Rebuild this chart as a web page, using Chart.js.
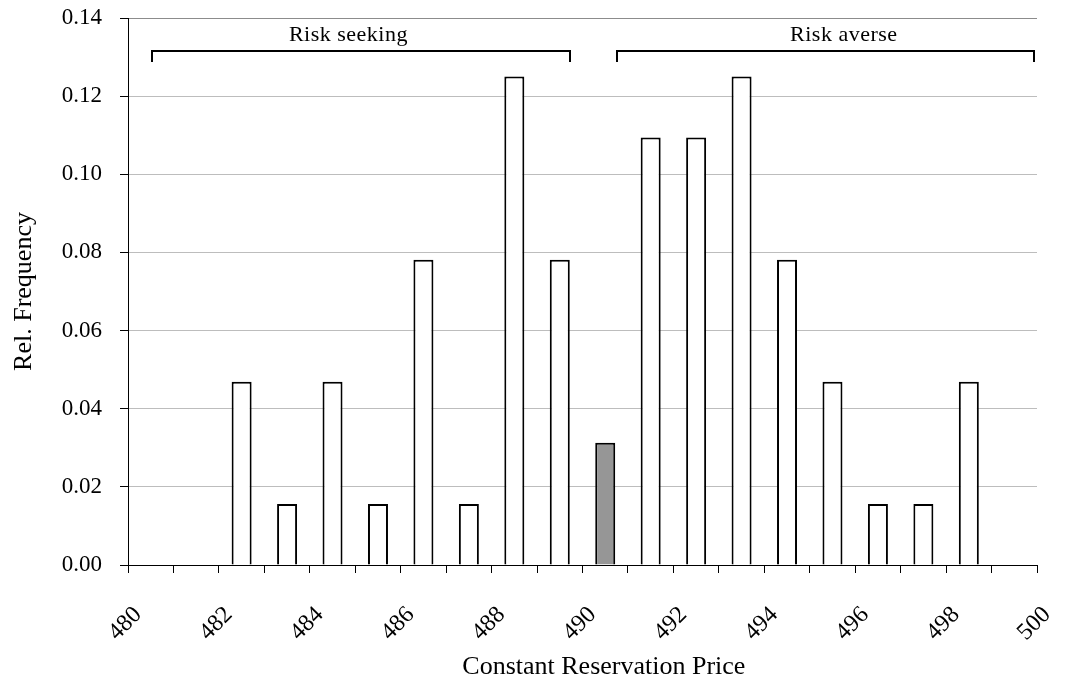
<!DOCTYPE html>
<html>
<head>
<meta charset="utf-8">
<script src="https://cdn.jsdelivr.net/npm/chart.js@4/dist/chart.umd.min.js"></script>
<style>
  html, body { margin: 0; padding: 0; background: #fff; }
  #chart { display: block; }
</style>
</head>
<body>
<canvas id="chart" width="1076" height="689"></canvas>
<script>
// bins of the constant reservation price (bar centres) and relative frequencies
const binCenters = [480.5, 481.5, 482.5, 483.5, 484.5, 485.5, 486.5, 487.5, 488.5, 489.5,
                    490.5, 491.5, 492.5, 493.5, 494.5, 495.5, 496.5, 497.5, 498.5, 499.5];
const relFreq = [0, 0, 0.0469, 0.0156, 0.0469, 0.0156, 0.0781, 0.0156, 0.125, 0.0781,
                 0.0313, 0.1094, 0.1094, 0.125, 0.0781, 0.0469, 0.0156, 0.0156, 0.0469, 0];
const neutralBin = 490.5; // the risk neutral bin is drawn grey

const yTicks = [0, 0.02, 0.04, 0.06, 0.08, 0.10, 0.12, 0.14];

// brackets over the bars
const bracketLabels = ["Risk seeking", "Risk averse"];
const bracketFrom = [480.52, 490.75];
const bracketTo = [489.72, 499.93];
const bracketTextX = [484.85, 495.75];
const bracketLineY = 0.1316;
const bracketFootY = 0.1288;
const bracketTextY = 0.1357;

const xTitle = "Constant Reservation Price";
const xTitleCenter = 490.47; // the title sits a little right of the axis middle

const serif = "'Liberation Serif', 'Times New Roman', serif";

const bracketPlugin = {
  id: "brackets",
  afterDraw(chart) {
    const ctx = chart.ctx;
    const x = chart.scales.x;
    const y = chart.scales.y;
    ctx.save();
    ctx.strokeStyle = "#000";
    ctx.lineWidth = 2;
    ctx.fillStyle = "#000";
    ctx.font = "22px " + serif;
    ctx.letterSpacing = "0.5px";
    ctx.textAlign = "center";
    ctx.textBaseline = "middle";
    bracketLabels.forEach((label, i) => {
      const x0 = Math.round(x.getPixelForValue(bracketFrom[i]));
      const x1 = Math.round(x.getPixelForValue(bracketTo[i]));
      const yl = Math.round(y.getPixelForValue(bracketLineY));
      const yf = Math.round(y.getPixelForValue(bracketFootY));
      ctx.beginPath();
      ctx.moveTo(x0, yf);
      ctx.lineTo(x0, yl);
      ctx.lineTo(x1, yl);
      ctx.lineTo(x1, yf);
      ctx.stroke();
      ctx.fillText(label, x.getPixelForValue(bracketTextX[i]), y.getPixelForValue(bracketTextY));
    });

    // x axis title
    ctx.letterSpacing = "0px";
    ctx.font = "26px " + serif;
    ctx.fillText(xTitle, x.getPixelForValue(xTitleCenter), x.bottom - 22);
    ctx.restore();
  }
};

const points = binCenters.map((c, i) => ({ x: c, y: relFreq[i] }));

new Chart(document.getElementById("chart"), {
  type: "bar",
  data: {
    datasets: [{
      data: points,
      backgroundColor: binCenters.map(c => c === neutralBin ? "#969696" : "#ffffff"),
      borderColor: "#000",
      borderWidth: 2,
      barPercentage: 0.44,
      categoryPercentage: 1,
      grouped: false
    }]
  },
  options: {
    responsive: false,
    animation: false,
    layout: { padding: { top: 18, right: 39, left: 0, bottom: 0 } },
    plugins: {
      legend: { display: false },
      tooltip: { enabled: false }
    },
    scales: {
      x: {
        type: "linear",
        min: 480,
        max: 500,
        offset: false,
        afterFit: s => { s.height = 124; s.paddingLeft = 0; s.paddingRight = 0; },
        border: { display: true, color: "#000", width: 1 },
        grid: { drawOnChartArea: false, tickLength: 8, color: "#000", offset: false },
        ticks: {
          stepSize: 1,
          autoSkip: false,
          maxRotation: 45,
          minRotation: 45,
          padding: 28,
          labelOffset: 10,
          color: "#000",
          font: { family: serif, size: 24 },
          callback: v => (v % 2 === 0 ? String(v) : "")
        },
        title: { display: false }
      },
      y: {
        min: 0,
        max: 0.14,
        afterFit: s => { s.width = 128; s.paddingTop = 0; s.paddingBottom = 0; },
        afterBuildTicks: s => { s.ticks = yTicks.map(v => ({ value: v })); },
        border: { display: true, color: "#000", width: 1 },
        grid: {
          color: c => (c.tick && c.tick.value === 0.14 ? "#8c8c8c" : "#bdbdbd"),
          tickColor: "#000",
          tickLength: 8
        },
        ticks: {
          padding: 18,
          color: "#000",
          font: { family: serif, size: 23 },
          callback: v => v.toFixed(2)
        },
        title: {
          display: true,
          text: "Rel. Frequency",
          color: "#000",
          font: { family: serif, size: 26 },
          padding: { top: 9, bottom: 0 }
        }
      }
    }
  },
  plugins: [bracketPlugin]
});
</script>
</body>
</html>
